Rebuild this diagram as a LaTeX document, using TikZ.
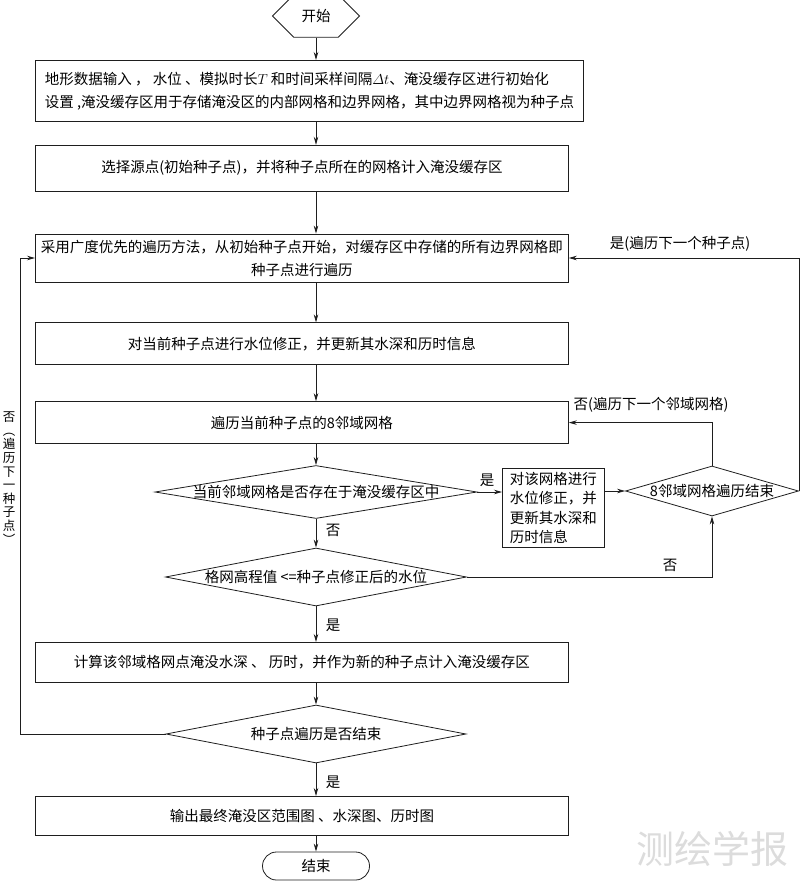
\documentclass[tikz,border=0pt]{standalone}
\usepackage{amsmath}
\usepackage{fontspec}
\setmainfont{Noto Sans CJK SC}
\usepackage{xcolor}
\usepackage{tikz}
\usetikzlibrary{positioning,shapes.geometric,shapes.misc,arrows.meta}
\definecolor{flowInk}{HTML}{1E1E1E}
\definecolor{markGray}{HTML}{DCDCDC}
\newcommand{\cnText}{\fontsize{14.5}{23}\selectfont}
\newcommand{\cnSmall}{\fontsize{14.5}{19.5}\selectfont}
\tikzset{
    procBox/.style={draw=flowInk, fill=white, line width=0.8pt, inner sep=3pt,
                    minimum width=533pt, align=center, font=\cnText},
    decBox/.style={diamond, draw=flowInk, fill=white, line width=0.8pt,
                   inner xsep=-40pt, inner ysep=0pt, aspect=5, font=\cnText},
    termHex/.style={chamfered rectangle, chamfered rectangle xsep=22pt,
                    chamfered rectangle ysep=15.5pt, draw=flowInk, line width=0.8pt,
                    minimum width=87pt, minimum height=31pt, inner sep=0pt, font=\cnText},
    termEnd/.style={rounded rectangle, draw=flowInk, line width=0.8pt,
                    minimum width=107pt, minimum height=28pt, inner sep=0pt, font=\cnText},
    flow/.style={draw=flowInk, line width=0.8pt, -{Stealth[length=8pt,width=4.5pt]}},
    flowLbl/.style={font=\cnText, inner sep=1pt},
    loopLbl/.style={font=\fontsize{12.5}{13.6}\selectfont, align=center, inner sep=0pt},
}

\begin{document}
\begin{tikzpicture}[x=1pt, y=-1pt]
\useasboundingbox (0,0) rectangle (800,883);

% =======================  main column  =======================
\node[termHex] (start) at (316,16) {开始};

\node[procBox, minimum width=548pt, minimum height=61pt, align=left, anchor=north west]
     (init) at (35,60)
     {地形数据输入 ， 水位 、模拟时长$T$ 和时间采样间隔$\varDelta t$、淹没缓存区进行初始化\\
      设置 ,淹没缓存区用于存储淹没区的内部网格和边界网格，其中边界网格视为种子点};

\node[procBox, minimum height=46pt, below=23pt of init.south west, anchor=north west]
     (select) {选择源点(初始种子点)，并将种子点所在的网格计入淹没缓存区};

\node[procBox, minimum height=48pt, below=42pt of select.south west, anchor=north west]
     (bfs) {采用广度优先的遍历方法，从初始种子点开始，对缓存区中存储的所有边界网格即\\
            种子点进行遍历};

\node[procBox, minimum height=42pt, below=40pt of bfs.south west, anchor=north west]
     (fix) {对当前种子点进行水位修正，并更新其水深和历时信息};

\node[procBox, minimum height=42pt, below=36pt of fix.south west, anchor=north west]
     (visit) {遍历当前种子点的8邻域网格};

% =======================  neighbour check  =======================
\node[decBox, minimum width=322pt, minimum height=53pt] (inBuf) at (316,492)
     {当前邻域网格是否存在于淹没缓存区中};

\node[procBox, minimum width=102pt, minimum height=79pt, align=left, font=\cnSmall,
      anchor=north west] (cellFix) at (502,468)
     {对该网格进行\\水位修正，并\\更新其水深和\\历时信息};

\node[decBox, minimum width=173pt, minimum height=50pt] (nbDone) at (712,491)
     {8邻域网格遍历结束};

\node[decBox, minimum width=301pt, minimum height=58pt] (lowCell) at (316,577)
     {格网高程值 <=种子点修正后的水位};

\node[procBox, minimum height=40pt, anchor=north west] (calc) at (35,642)
     {计算该邻域格网点淹没水深 、 历时，并作为新的种子点计入淹没缓存区};

\node[decBox, minimum width=300pt, minimum height=58pt] (seedDone) at (316,734)
     {种子点遍历是否结束};

\node[procBox, minimum height=39pt, anchor=north west] (output) at (35,796)
     {输出最终淹没区范围图 、水深图、历时图};

\node[termEnd] (stop) at (316,866) {结束};

% =======================  connectors  =======================
\coordinate (loopL) at (20,0);

\draw[flow] (start) -- (start |- init.north);
\draw[flow] (start |- init.south) -- (start |- select.north);
\draw[flow] (start |- select.south) -- (start |- bfs.north);
\draw[flow] (start |- bfs.south) -- (start |- fix.north);
\draw[flow] (start |- fix.south) -- (start |- visit.north);
\draw[flow] (start |- visit.south) -- (inBuf.north);

\draw[flow] (inBuf.east) -- (cellFix.west |- inBuf.east);
\draw[flow] (cellFix.east |- nbDone.west) -- (nbDone.west);
\draw[flow] (nbDone.north) |- (visit.east);
\draw[flow] (nbDone.east) -- (nbDone.east |- bfs.east) -- (bfs.east);

\draw[flow] (inBuf.south) -- (lowCell.north);
\draw[flow] (lowCell.east) -| (nbDone.south);
\draw[flow] (lowCell.south) -- (start |- calc.north);
\draw[flow] (start |- calc.south) -- (seedDone.north);
\draw[flow] (seedDone.west) -- (loopL |- seedDone.west) -- (loopL |- bfs.west) -- (bfs.west);
\draw[flow] (seedDone.south) -- (start |- output.north);
\draw[flow] (start |- output.south) -- (stop.north);

% labels on the branches
\node[flowLbl] (yesSeed) at (680,244) {是(遍历下一个种子点)};
\node[flowLbl] (noNb) at (651,405) {否(遍历下一个邻域网格)};
\node[flowLbl] (yesIn) at (487,480) {是};
\node[flowLbl] (noIn) at (333,530) {否};
\node[flowLbl] (noLow) at (670,565) {否};
\node[flowLbl] (yesLow) at (333,625) {是};
\node[flowLbl] (yesEnd) at (333,782) {是};
\node[loopLbl] (noSeed) at (9,478) {否\\︵\\遍\\历\\下\\一\\种\\子\\点\\︶};

% journal mark
\node[font=\fontsize{38}{38}\selectfont, text=markGray] (mark) at (712,849) {测绘学报};

\end{tikzpicture}
\end{document}
